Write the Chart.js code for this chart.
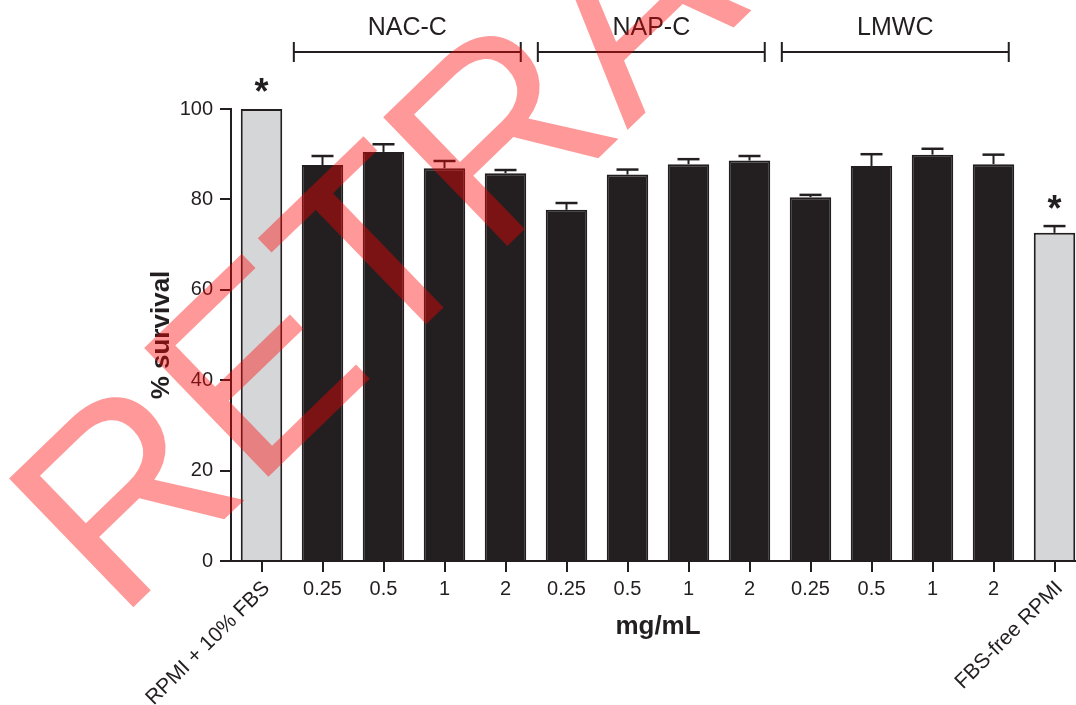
<!DOCTYPE html>
<html>
<head>
<meta charset="utf-8">
<script src="https://cdn.jsdelivr.net/npm/chart.js@4.4.1/dist/chart.umd.min.js"></script>
<style>
    html, body { margin: 0; padding: 0; background: #fff; overflow: hidden; }
    #wrap { width: 1085px; height: 705px; }
</style>
</head>
<body>
<div id="wrap"><canvas id="survivalChart" width="1085" height="705"></canvas></div>
<script>
const categories = ["RPMI + 10% FBS", "0.25", "0.5", "1", "2", "0.25", "0.5", "1", "2", "0.25", "0.5", "1", "2", "FBS-free RPMI"];
const survival = [100, 87.6, 90.5, 86.9, 85.8, 77.7, 85.5, 87.8, 88.6, 80.5, 87.4, 89.9, 87.8, 72.6];
const errors = [0, 2.0, 1.7, 1.6, 0.7, 1.5, 1.1, 1.1, 1.0, 0.5, 2.6, 1.3, 2.1, 1.5];
const significance = ["*", "", "", "", "", "", "", "", "", "", "", "", "", "*"];
const controls = [0, 13];
const groupNames = ["NAC-C", "NAP-C", "LMWC"];
const groupFirst = [1, 5, 9];
const groupLast = [4, 8, 12];
const yTicks = [0, 20, 40, 60, 80, 100];

const INK = "#231f20";
const GRAY = "#d5d6d8";
const FONT = "'Liberation Sans', Arial, Helvetica, sans-serif";

const extras = {
    id: "extras",
    afterDatasetsDraw(chart) {
        const { ctx, scales: { x, y } } = chart;
        const bars = chart.getDatasetMeta(0).data;
        const step = x.getPixelForValue(1) - x.getPixelForValue(0);
        ctx.save();
        ctx.strokeStyle = INK;
        ctx.fillStyle = INK;

        // error bars + asterisks
        bars.forEach((bar, i) => {
            const top = y.getPixelForValue(survival[i] + errors[i]);
            if (errors[i] > 0) {
                ctx.lineWidth = 2;
                ctx.beginPath();
                ctx.moveTo(bar.x, y.getPixelForValue(survival[i]));
                ctx.lineTo(bar.x, top);
                ctx.stroke();
                ctx.lineWidth = 2.5;
                ctx.beginPath();
                ctx.moveTo(bar.x - 11, top);
                ctx.lineTo(bar.x + 11, top);
                ctx.stroke();
            }
            if (significance[i]) {
                ctx.font = "bold 36px " + FONT;
                ctx.textAlign = "center";
                ctx.textBaseline = "alphabetic";
                ctx.fillText(significance[i], bar.x, top - 5);
            }
        });

        // group brackets
        ctx.lineWidth = 2;
        groupNames.forEach((name, g) => {
            const x0 = x.getPixelForValue(groupFirst[g]) - step * 0.47;
            const x1 = x.getPixelForValue(groupLast[g]) + step * 0.25;
            ctx.beginPath();
            ctx.moveTo(x0, 52); ctx.lineTo(x1, 52);
            ctx.moveTo(x0, 42); ctx.lineTo(x0, 62);
            ctx.moveTo(x1, 42); ctx.lineTo(x1, 62);
            ctx.stroke();
            ctx.font = "25px " + FONT;
            ctx.textAlign = "center";
            ctx.textBaseline = "middle";
            ctx.fillText(name, (x0 + x1) / 2, 28);
        });

        // rotated control labels
        ctx.font = "21px " + FONT;
        ctx.textAlign = "right";
        ctx.textBaseline = "middle";
        controls.forEach(i => {
            ctx.save();
            ctx.translate(x.getPixelForValue(i) + 5, 585);
            ctx.rotate(-Math.PI / 4);
            ctx.fillText(categories[i], 0, 0);
            ctx.restore();
        });
        ctx.restore();
    },
    afterDraw(chart) {
        // retraction stamp over the figure
        const ctx = chart.ctx;
        ctx.save();
        ctx.translate(118, 622);
        ctx.rotate(-44 * Math.PI / 180);
        ctx.font = "260px " + FONT;
        ctx.fillStyle = "rgba(255, 0, 0, 0.4)";
        ctx.textBaseline = "alphabetic";
        ctx.fillText("RETRACTED", 0, 0);
        ctx.restore();
    }
};

new Chart(document.getElementById("survivalChart"), {
    type: "bar",
    data: {
        labels: categories,
        datasets: [{
            data: survival,
            backgroundColor: survival.map((v, i) => controls.includes(i) ? GRAY : INK),
            borderColor: INK,
            borderWidth: 2,
            barPercentage: 0.68,
            categoryPercentage: 1.0
        }]
    },
    options: {
        responsive: false,
        animation: false,
        layout: { padding: { top: 109, left: 0, right: 0, bottom: 0 } },
        plugins: {
            legend: { display: false },
            tooltip: { enabled: false }
        },
        scales: {
            x: {
                offset: true,
                grid: { offset: false, drawOnChartArea: false, drawTicks: true, tickLength: 11, color: INK, lineWidth: 2 },
                border: { color: INK, width: 2 },
                ticks: {
                    autoSkip: false,
                    maxRotation: 0,
                    padding: 5,
                    color: INK,
                    font: { family: FONT, size: 20 },
                    callback: (v, i) => controls.includes(i) ? "" : categories[i]
                },
                title: {
                    display: true,
                    text: "mg/mL",
                    color: INK,
                    font: { family: FONT, size: 26, weight: "bold" },
                    padding: { top: 0, bottom: 63 }
                },
                afterFit: s => { s.height = 144; }
            },
            y: {
                min: 0,
                max: 100,
                grid: { drawOnChartArea: false, drawTicks: true, tickLength: 11, color: INK, lineWidth: 2 },
                border: { color: INK, width: 2 },
                ticks: {
                    padding: 7,
                    color: INK,
                    font: { family: FONT, size: 20 }
                },
                afterBuildTicks: s => { s.ticks = yTicks.map(v => ({ value: v })); },
                title: {
                    display: true,
                    text: "% survival",
                    color: INK,
                    font: { family: FONT, size: 26, weight: "bold" },
                    padding: { top: 146, bottom: 0 }
                },
                afterFit: s => { s.width = 231; }
            }
        }
    },
    plugins: [extras]
});
</script>
</body>
</html>
